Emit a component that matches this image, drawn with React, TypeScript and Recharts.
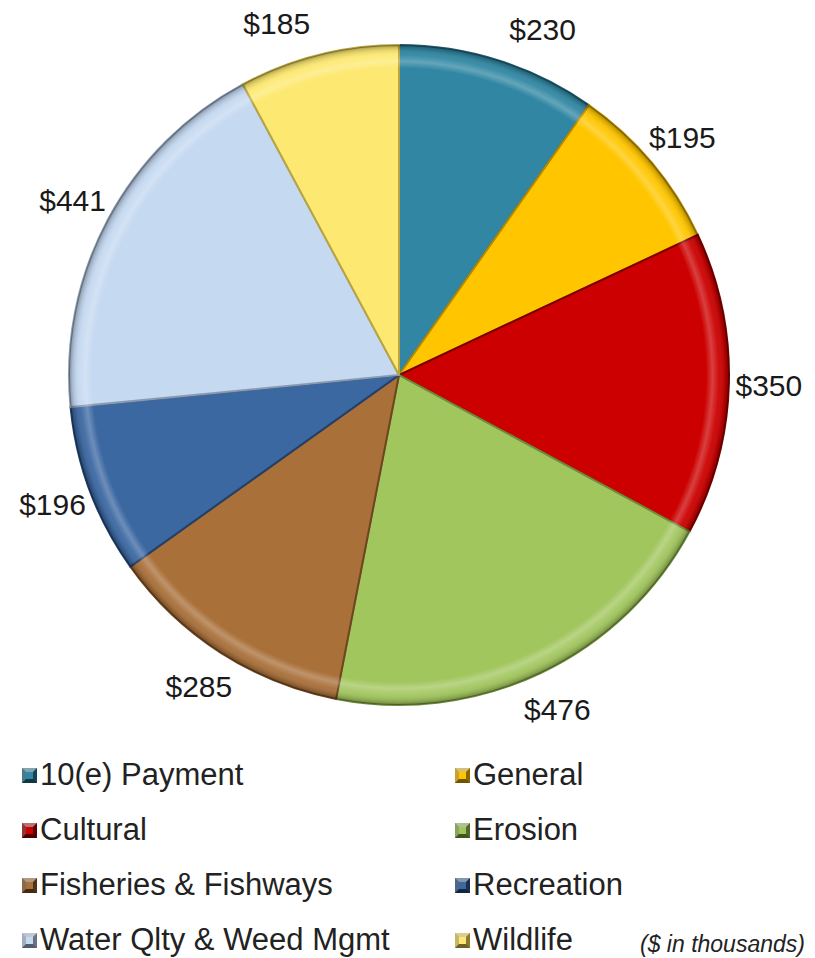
import React from "react";
import { PieChart, Pie, Cell, Legend } from "recharts";

const categories = [
  "10(e) Payment",
  "General",
  "Cultural",
  "Erosion",
  "Fisheries & Fishways",
  "Recreation",
  "Water Qlty & Weed Mgmt",
  "Wildlife",
];
const amounts = [230, 195, 350, 476, 285, 196, 441, 185];
const valueLabels = ["$230", "$195", "$350", "$476", "$285", "$196", "$441", "$185"];
const colors = ["#3187A3", "#FFC600", "#CC0000", "#A2C65E", "#A9703A", "#3C68A2", "#C5D9F1", "#FDE971"];
const edgeColors = ["#1F5A6E", "#B88A00", "#7A0000", "#6E8C3A", "#6E4520", "#22406A", "#8A9AB0", "#B8A540"];
const unitNote = "($ in thousands)";

const data = categories.map((name, i) => ({ name, value: amounts[i], label: valueLabels[i] }));

const RAD = Math.PI / 180;
const FONT = "'Liberation Sans', Arial, sans-serif";

const renderLabel = (props: any) => {
  const { cx, cy, midAngle, outerRadius, index } = props;
  const d = outerRadius + 40;
  const c = Math.cos(-midAngle * RAD);
  const s = Math.sin(-midAngle * RAD);
  let x = cx + d * c;
  let y = cy + d * s;
  // labels near the top are pushed sideways, away from the vertical axis
  if (-s > 0.85) {
    x += 32 * Math.sign(c);
    y += 7;
  }
  return (
    <text
      x={x}
      y={y}
      textAnchor="middle"
      dominantBaseline="central"
      fontFamily={FONT}
      fontSize={30}
      fill="#1a1a1a"
    >
      {valueLabels[index]}
    </text>
  );
};

const Swatch = ({ color, edge }: { color: string; edge: string }) => (
  <svg width={15} height={15} style={{ display: "block" }}>
    <rect x={0} y={0} width={15} height={15} fill={edge} />
    <polygon points="0,0 15,0 11,4 4,4" fill="#ffffff" fillOpacity={0.45} />
    <polygon points="0,0 4,4 4,11 0,15" fill="#ffffff" fillOpacity={0.2} />
    <polygon points="15,0 15,15 11,11 11,4" fill="#000000" fillOpacity={0.25} />
    <polygon points="0,15 15,15 11,11 4,11" fill="#000000" fillOpacity={0.4} />
    <rect x={4} y={4} width={7} height={7} fill={color} />
  </svg>
);

const renderLegend = () => {
  const colX = [22, 455];
  const rowY = [775, 830, 885, 940];
  return (
    <div style={{ position: "relative", width: 815, height: 210 }}>
      {categories.map((name, i) => {
        const col = i % 2;
        const row = Math.floor(i / 2);
        return (
          <div
            key={name}
            style={{
              position: "absolute",
              left: colX[col],
              top: rowY[row] - 750 - 18,
              height: 36,
              display: "flex",
              alignItems: "center",
              fontFamily: FONT,
              fontSize: 31,
              color: "#222",
              whiteSpace: "nowrap",
            }}
          >
            <Swatch color={colors[i]} edge={edgeColors[i]} />
            <span style={{ marginLeft: 3 }}>{name}</span>
          </div>
        );
      })}
      <div
        style={{
          position: "absolute",
          left: 640,
          top: 945 - 750 - 14,
          fontFamily: FONT,
          fontSize: 23,
          fontStyle: "italic",
          color: "#222",
          whiteSpace: "nowrap",
        }}
      >
        {unitNote}
      </div>
    </div>
  );
};

export default function App() {
  return (
    <div style={{ position: "absolute", left: 0, top: 0, width: 815, height: 958, background: "#fff" }}>
      <PieChart width={815} height={958} margin={{ top: 0, right: 0, bottom: 0, left: 0 }}>
        <defs>
          <radialGradient id="bevel" cx={399} cy={375} r={330} gradientUnits="userSpaceOnUse">
            <stop offset="0%" stopColor="#ffffff" stopOpacity={0} />
            <stop offset="93%" stopColor="#ffffff" stopOpacity={0} />
            <stop offset="95%" stopColor="#ffffff" stopOpacity={0.25} />
            <stop offset="97%" stopColor="#ffffff" stopOpacity={0.05} />
            <stop offset="99%" stopColor="#000000" stopOpacity={0.15} />
            <stop offset="100%" stopColor="#000000" stopOpacity={0.35} />
          </radialGradient>
        </defs>
        <Pie
          data={data}
          dataKey="value"
          nameKey="name"
          cx={399}
          cy={375}
          outerRadius={330}
          startAngle={90}
          endAngle={-270}
          isAnimationActive={false}
          label={renderLabel}
          labelLine={false}
          stroke="#333"
          strokeWidth={1}
        >
          {data.map((d, i) => (
            <Cell key={d.name} fill={colors[i]} stroke={edgeColors[i]} strokeWidth={2} />
          ))}
        </Pie>
        <Pie
          data={data}
          dataKey="value"
          cx={399}
          cy={375}
          outerRadius={330}
          startAngle={90}
          endAngle={-270}
          isAnimationActive={false}
          fill="url(#bevel)"
          stroke="none"
          legendType="none"
        >
          {data.map((d) => (
            <Cell key={d.name} fill="url(#bevel)" stroke="none" />
          ))}
        </Pie>
        <Legend
          content={renderLegend}
          wrapperStyle={{ position: "absolute", left: 0, top: 750, width: 815, height: 210 }}
        />
      </PieChart>
    </div>
  );
}
